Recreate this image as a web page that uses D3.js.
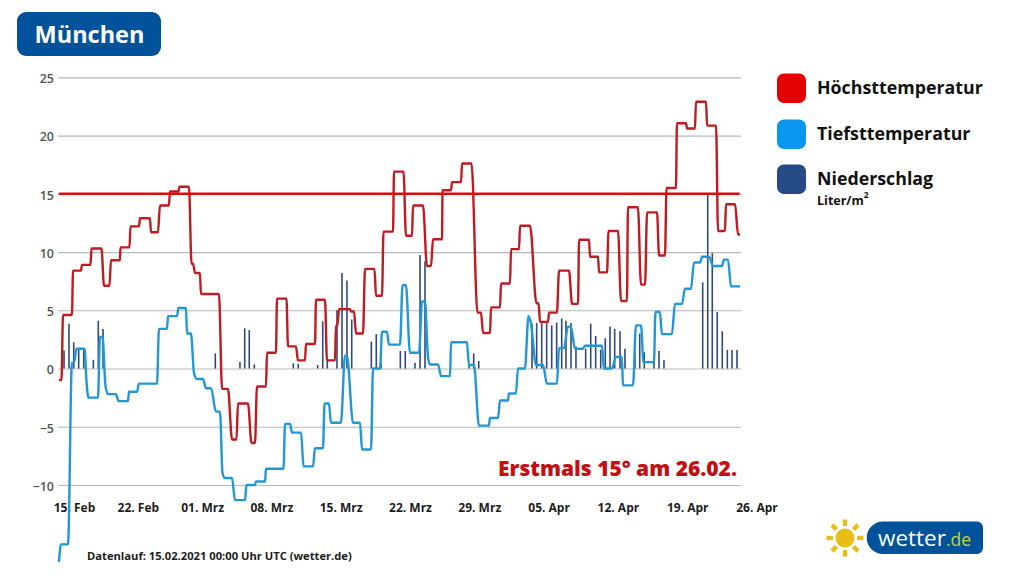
<!DOCTYPE html>
<html>
<head>
<meta charset="utf-8">
<script src="https://d3js.org/d3.v7.min.js"></script>
<style>
	html, body { margin: 0; background: #fff; }
	text { font-family: "Open Sans", sans-serif; }
</style>
</head>
<body>
<svg id="graph" width="1024" height="576"></svg>
<script>
// days since 15 Feb, every plateau of a line runs from..to
var maxFrom = [0.15,0.56,1.57,2.47,3.43,4.70,5.40,6.36,7.37,8.33,9.44,10.35,11.36,12.32,13.54,13.89,14.49,16.62,17.63,18.23,19.60,20.15,21.16,22.17,23.28,24.29,25.10,26.11,27.22,28.13,28.44,29.65,30.15,31.06,32.17,32.93,33.99,35.20,35.91,37.32,37.93,38.89,39.85,40.86,42.42,42.98,43.79,44.80,45.81,46.72,48.38,48.74,49.65,50.66,51.97,52.68,53.79,54.70,55.66,56.92,57.62,58.94,59.55,60.76,61.52,62.57,63.59,64.49,65.61,66.72,67.52,68.74];
var maxTo = [0.40,1.46,2.37,3.33,4.44,5.25,6.31,7.27,8.23,9.34,10.15,11.26,12.22,13.28,13.69,14.39,16.31,17.22,18.08,19.24,19.95,21.06,22.07,23.13,24.09,25.00,26.01,27.02,28.03,28.28,29.55,29.95,30.86,32.02,32.78,33.89,34.95,35.81,36.92,37.73,38.84,39.75,40.76,41.82,42.78,43.69,44.70,45.71,46.62,47.73,48.59,49.55,50.45,51.67,52.58,53.69,54.60,55.51,56.62,57.52,58.63,59.35,60.56,61.36,62.47,63.48,64.39,65.51,66.52,67.42,68.44,68.94];
var maxTemp = [-1,4.6,8.4,8.9,10.3,7.1,9.3,10.4,12.2,12.9,11.7,14,15.2,15.6,9,8.2,6.4,-1.75,-6.1,-3,-6.4,-1.55,1.35,6,1.9,0.7,2.1,5.9,0.7,3.7,5.1,4.9,3,8.55,6.25,11.75,16.9,11.4,14,8.8,11.1,15.3,16,17.6,4.8,3.05,5.25,7.3,10.25,12.25,5.6,4,4.8,8.4,5.55,11.05,9.6,8.25,11.8,5.8,13.85,7.2,13.4,9.7,15.5,21.05,20.6,22.9,20.85,11.8,14.1,11.5];

var minFrom = [0.15,0.35,1.46,1.92,2.93,3.13,4.29,4.85,5.10,6.16,7.22,8.23,10.25,11.16,12.22,13.08,13.79,14.09,15.00,16.01,16.67,16.92,17.93,19.09,20.05,21.06,22.98,23.69,24.85,26.01,26.97,27.62,29.04,29.85,30.76,31.87,32.78,33.48,34.85,35.60,36.82,37.42,37.63,38.74,39.75,41.56,42.57,43.68,44.70,45.60,46.51,47.57,47.82,48.33,49.44,50.66,51.56,52.27,53.28,55.19,56.41,57.12,58.43,59.19,60.40,61.05,62.37,63.38,64.29,65.11,66.22,67.32,68.03];
var minTo = [0.15,1.06,1.67,2.73,2.93,4.09,4.55,4.85,5.91,7.12,8.03,10.05,11.06,12.07,12.98,13.48,13.79,14.70,15.51,16.41,16.67,17.63,18.94,19.95,20.96,22.83,23.48,24.60,25.81,26.82,27.42,28.63,29.24,30.56,31.67,32.58,33.28,34.60,35.20,36.52,37.12,37.42,38.44,39.65,41.36,42.07,43.58,44.49,45.50,46.31,47.22,47.57,47.82,49.04,50.45,51.16,51.86,53.08,55.00,56.00,57.00,58.13,58.94,60.25,60.85,62.06,63.08,63.99,64.90,65.81,67.12,67.73,68.94];
var minTemp = [-16.6,-15.1,0.5,1.7,-1.1,-2.5,2.7,-1.5,-2.2,-2.8,-2,-1.3,3.4,4.5,5.2,3,-0.4,-0.9,-1.7,-3.7,-9,-9.4,-11.3,-10,-9.7,-8.6,-4.75,-5.5,-8.4,-6.85,-3,-4.65,1.1,-4.65,-6.95,0,3.15,2.05,7.15,1.35,5.75,1,0.35,-0.65,2.25,0.3,-4.9,-4.25,-2.75,-2.15,0,4.5,3.9,0.3,-1.3,1.75,3.6,1.7,1.95,0,1,-1.45,3.7,0.55,4.85,2.95,5.55,6.85,9.1,9.6,8.8,9.35,7.05];

var rainDay = [0.66,1.16,1.64,2.14,2.65,3.62,4.12,4.60,15.94,18.43,18.91,19.37,19.88,23.82,24.32,26.28,26.79,27.25,28.23,28.74,29.24,29.72,31.70,32.20,32.68,34.63,35.13,36.11,36.62,37.12,41.57,42.04,42.55,47.93,48.40,48.91,49.41,49.92,50.42,50.93,51.36,51.87,52.37,53.35,53.86,54.36,54.87,55.33,55.81,56.28,56.82,57.32,58.33,58.81,59.27,60.25,60.76,61.26,65.17,65.68,66.14,66.64,67.15,67.66,68.13,68.64];
var rain = [1.55,3.85,2.25,1.75,1.65,0.75,4.1,3.4,1.3,0.55,3.45,3.3,0.35,0.45,0.4,0.3,4.05,0.9,5,8.2,7.55,4.2,2.3,2.95,0.5,1.5,1.5,0.5,9.75,9.2,0.4,1.3,0.65,3.85,3.9,3.9,3.9,3.7,3.95,4.3,4.1,3.9,1.9,1.7,3.85,2.8,1.6,2.6,3.6,3.4,3.2,1.7,1.4,3,1.4,0.7,1.5,0.7,7.4,14.9,9.9,4.85,3.2,1.6,1.6,1.6];

var tempTicks = [25, 20, 15, 10, 5, 0, -5, -10];
var dayTicks = [0, 7, 14, 21, 28, 35, 42, 49, 56, 63, 70];
var dayLabels = ["15. Feb", "22. Feb", "01. Mrz", "08. Mrz", "15. Mrz", "22. Mrz", "29. Mrz", "05. Apr", "12. Apr", "19. Apr", "26. Apr"];
var threshold = 15;

var legendNames = ["Höchsttemperatur", "Tiefsttemperatur", "Niederschlag"];
var legendColors = ["#e30202", "#0a97f2", "#264a85"];

var svg = d3.select('#graph');

var x = d3.scaleLinear().domain([0, 70]).range([57.5, 750.5]);
var y = d3.scaleLinear().domain([-10, 25]).range([485, 77.3]);

// title box
svg.append('rect').attr('x', 17).attr('y', 12).attr('width', 144).attr('height', 44).attr('rx', 9).attr('fill', '#00529b');
svg.append('text').attr('x', 89.5).attr('y', 43).attr('text-anchor', 'middle')
	.attr('fill', '#fff').attr('font-size', 23.5).attr('font-weight', 700).text('München');

// y axis with the grid
var yAxis = svg.append('g')
	.attr('transform', 'translate(58,0)')
	.call(d3.axisLeft(y).tickValues(tempTicks).tickSize(-683).tickPadding(4));
yAxis.select('.domain').remove();
yAxis.selectAll('line').attr('stroke', '#b9b9b9').attr('stroke-width', 1.2);
yAxis.selectAll('text').attr('font-size', 12.5).attr('font-weight', 600).attr('fill', '#555')
	.attr('font-family', '"Open Sans", sans-serif').attr('dy', '0.42em');

// x axis, the labels sit a bit right of their day
var xAxis = svg.append('g')
	.attr('transform', 'translate(0,503)')
	.call(d3.axisBottom(x).tickValues(dayTicks).tickSize(0).tickPadding(0)
		.tickFormat(function (d, i) { return dayLabels[i]; }));
xAxis.select('.domain').remove();
xAxis.selectAll('text').attr('font-size', 12).attr('font-weight', 700).attr('fill', '#1c1c1c')
	.attr('font-family', '"Open Sans", sans-serif')
	.attr('dx', function (d, i) { return i == 0 ? 16.5 : (i == 1 ? 11 : 6); });

svg.append('text').attr('x', 87).attr('y', 560).attr('font-size', 11.2).attr('font-weight', 700)
	.attr('fill', '#1c1c1c').text('Datenlauf: 15.02.2021 00:00 Uhr UTC (wetter.de)');

// precipitation
svg.append('g').selectAll('line')
	.data(rain)
	.enter()
	.append('line')
	.attr('x1', function (d, i) { return x(rainDay[i]); })
	.attr('x2', function (d, i) { return x(rainDay[i]); })
	.attr('y1', y(0))
	.attr('y2', function (d) { return y(d); })
	.attr('stroke', '#2f4a78')
	.attr('stroke-width', 1.6);

function plateaus(from, to, vals) {
	var pts = [];
	vals.forEach(function (v, i) {
		pts.push([from[i], v]);
		if (to[i] != from[i]) pts.push([to[i], v]);
	});
	return pts;
}

var line = d3.line()
	.curve(d3.curveMonotoneX)
	.x(function (d) { return x(d[0]); })
	.y(function (d) { return y(d[1]); });

svg.append('path').attr('d', line(plateaus(minFrom, minTo, minTemp)))
	.attr('fill', 'none').attr('stroke', '#1f97d8').attr('stroke-width', 2.4).attr('stroke-linejoin', 'round');
svg.append('path').attr('d', line(plateaus(maxFrom, maxTo, maxTemp)))
	.attr('fill', 'none').attr('stroke', '#c11a20').attr('stroke-width', 2.4).attr('stroke-linejoin', 'round');

svg.append('line')
	.attr('x1', x(0.15)).attr('x2', x(68.9))
	.attr('y1', y(threshold)).attr('y2', y(threshold))
	.attr('stroke', '#dc0d0d').attr('stroke-width', 2.6);

svg.append('text').attr('x', 737).attr('y', 476).attr('text-anchor', 'end')
	.attr('fill', '#c40f12').attr('font-size', 21).attr('font-weight', 800)
	.text('Erstmals 15° am 26.02.');

// legend
var legend = svg.append('g').selectAll('g')
	.data(legendNames)
	.enter()
	.append('g')
	.attr('transform', function (d, i) { return 'translate(777,' + [73.5, 119.5, 164.5][i] + ')'; });
legend.append('rect').attr('width', 29).attr('height', 29.5).attr('rx', 7)
	.attr('fill', function (d, i) { return legendColors[i]; });
legend.append('text').attr('x', 40).attr('y', 20.5).attr('font-size', 17.8).attr('font-weight', 700)
	.attr('fill', '#111').text(function (d) { return d; });

var unit = svg.append('text').attr('x', 817).attr('y', 205).attr('font-size', 12.5).attr('font-weight', 700).attr('fill', '#111');
unit.append('tspan').text('Liter/m');
unit.append('tspan').attr('font-size', 8.5).attr('dy', -7).text('2');

// logo
var sun = svg.append('g').attr('transform', 'translate(845,538)').attr('fill', '#e8be16');
sun.append('circle').attr('r', 9.5);
sun.selectAll('rect')
	.data(d3.range(8))
	.enter()
	.append('rect')
	.attr('x', 12).attr('y', -2.2).attr('width', 6.5).attr('height', 4.4)
	.attr('transform', function (d) { return 'rotate(' + d * 45 + ')'; });
svg.append('path')
	.attr('d', 'M883,521.5H977a6,6 0 0 1 6,6V548a6,6 0 0 1 -6,6H883a16.25,16.25 0 0 1 0,-32.5Z')
	.attr('fill', '#00529b');
var brand = svg.append('text').attr('x', 878).attr('y', 546).attr('font-size', 22.5);
brand.append('tspan').attr('fill', '#fff').text('wetter');
brand.append('tspan').attr('fill', '#c4d23a').attr('font-size', 17.5).text('.de');
</script>
</body>
</html>
